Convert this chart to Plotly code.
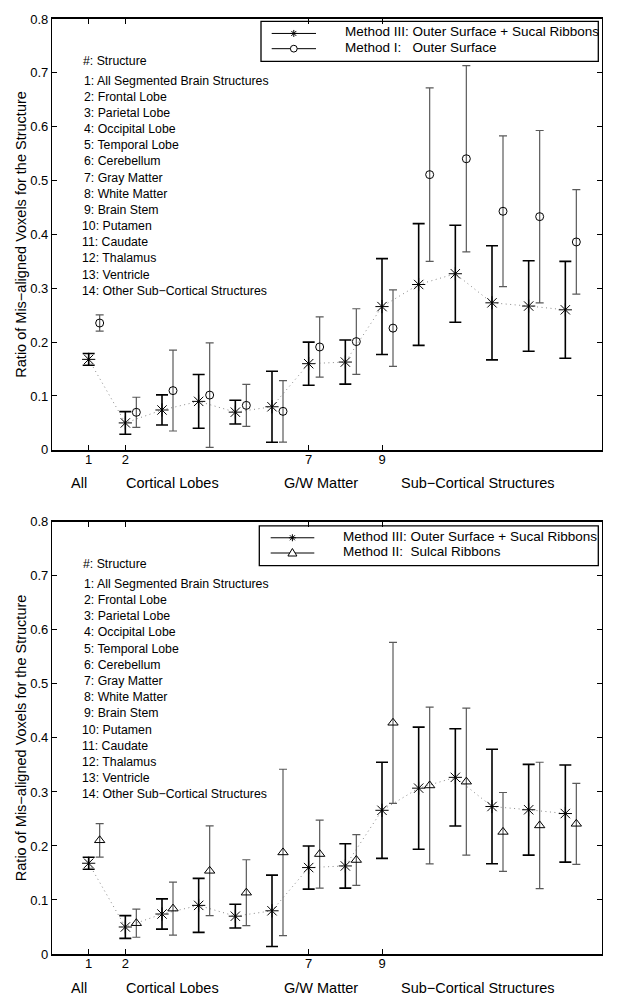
import plotly.graph_objects as go

# ---------------- data ----------------
structures = [
    "All Segmented Brain Structures", "Frontal Lobe", "Parietal Lobe",
    "Occipital Lobe", "Temporal Lobe", "Cerebellum", "Gray Matter",
    "White Matter", "Brain Stem", "Putamen", "Caudate", "Thalamus",
    "Ventricle", "Other Sub\u2212Cortical Structures",
]
struct_idx = list(range(1, 15))
offset = 0.3

m3_mean = [0.168, 0.050, 0.074, 0.090, 0.070, 0.080, 0.160, 0.163, 0.266, 0.307, 0.327, 0.273, 0.267, 0.260]
m3_err = [0.011, 0.021, 0.028, 0.050, 0.022, 0.066, 0.040, 0.041, 0.089, 0.113, 0.090, 0.106, 0.084, 0.090]

m1_mean = [0.2355, 0.0697, 0.110, 0.1017, 0.0826, 0.0715, 0.191, 0.201, 0.226, 0.511, 0.5405, 0.443, 0.433, 0.386]
m1_err = [0.015, 0.028, 0.075, 0.097, 0.039, 0.057, 0.056, 0.061, 0.071, 0.161, 0.173, 0.140, 0.160, 0.097]

m2_mean = [0.2105, 0.057, 0.084, 0.154, 0.1135, 0.188, 0.185, 0.174, 0.428, 0.312, 0.319, 0.226, 0.238, 0.241]
m2_err = [0.031, 0.026, 0.049, 0.083, 0.061, 0.154, 0.063, 0.047, 0.149, 0.145, 0.136, 0.073, 0.117, 0.075]

tick_vals = [1, 2, 7, 9]
tick_text = ["1", "2", "7", "9"]
y_ticks = [0, 0.1, 0.2, 0.3, 0.4, 0.5, 0.6, 0.7, 0.8]
y_tick_text = ["0", "0.1", "0.2", "0.3", "0.4", "0.5", "0.6", "0.7", "0.8"]
group_labels = ["All", "Cortical Lobes", "G/W Matter", "Sub\u2212Cortical Structures"]
group_pos = [0.74, 3.29, 7.33, 11.63]

name_m3 = "Method III: Outer Surface + Sucal Ribbons"
name_m1 = "Method I:\u00a0\u00a0\u00a0Outer Surface"
name_m2 = "Method II:\u00a0\u00a0Sulcal Ribbons"
y_title = "Ratio of Mis\u2212aligned Voxels for the Structure"

FONT = "Liberation Sans, Arial, Helvetica, sans-serif"

# ---------------- geometry (pixels) ----------------
W, H = 621, 1000
ML, MR, MT, MB = 52, 19, 15, 46
PW = W - ML - MR            # 550
PH = H - MT - MB            # 939
top_dom = [0.5392, 1.0]
bot_dom = [0.0, 0.4622]

fig = go.Figure()
x_off = [i + offset for i in struct_idx]

STAR_PATH = "M-3.5,0L3.5,0M0,-3.5L0,3.5M-2.5,-2.5L2.5,2.5M-2.5,2.5L2.5,-2.5"
TRI_PATH = "M-4.5,-3L4.5,-3L0,4.5Z"


def add_panel(xa, ya, other_mean, other_err, other_symbol, other_size):
    fig.add_trace(go.Scatter(
        x=struct_idx, y=m3_mean, mode="lines", xaxis=xa, yaxis=ya,
        line=dict(color="#8a8a8a", width=1, dash="1px,3.5px"),
        showlegend=False, hoverinfo="skip"))
    fig.add_trace(go.Scatter(
        x=struct_idx, y=m3_mean, mode="markers", xaxis=xa, yaxis=ya, name=name_m3,
        marker=dict(symbol="asterisk-open", size=11, color="black",
                    line=dict(color="black", width=1)),
        error_y=dict(type="data", array=m3_err, color="black", thickness=1.6, width=6),
        showlegend=False))
    fig.add_trace(go.Scatter(
        x=x_off, y=other_mean, mode="markers", xaxis=xa, yaxis=ya,
        marker=dict(symbol=other_symbol, size=other_size, color="black",
                    line=dict(color="black", width=1)),
        error_y=dict(type="data", array=other_err, color="#5a5a5a", thickness=1.2, width=4),
        showlegend=False))


add_panel("x", "y", m1_mean, m1_err, "circle-open", 8)
add_panel("x2", "y2", m2_mean, m2_err, "triangle-up-open", 9)

axis_common_x = dict(
    range=[0, 15], tickmode="array", tickvals=tick_vals, ticktext=tick_text,
    ticks="inside", ticklen=5, tickcolor="black", showline=True, linecolor="black",
    linewidth=1.6, mirror="ticks", showgrid=False, zeroline=False,
    tickfont=dict(family=FONT, size=13, color="black"),
)
axis_common_y = dict(
    range=[0, 0.8], tickmode="array", tickvals=y_ticks, ticktext=y_tick_text,
    ticks="inside", ticklen=5, tickcolor="black", showline=True, linecolor="black",
    linewidth=1.2, mirror="ticks", showgrid=False, zeroline=False,
    tickfont=dict(family=FONT, size=13, color="black"),
    title=dict(text=y_title, font=dict(family=FONT, size=14.5, color="black"), standoff=0),
)

annotations = []
shapes = []
for xa, ya in (("x", "y"), ("x2", "y2")):
    annotations.append(dict(
        x=0.80, y=0.7225, xref=xa, yref=ya, text="#: Structure", showarrow=False,
        xanchor="left", yanchor="middle", font=dict(family=FONT, size=12.3, color="black")))
    for i, name in enumerate(structures):
        n = struct_idx[i]
        annotations.append(dict(
            x=0.82 if n < 10 else 0.755, y=0.6855 - 0.03 * i, xref=xa, yref=ya,
            text=f"{n}: {name}", showarrow=False, xanchor="left", yanchor="middle",
            font=dict(family=FONT, size=12.3, color="black")))
    for lab, pos in zip(group_labels, group_pos):
        annotations.append(dict(
            x=pos, y=-0.078, xref=xa, yref=ya + " domain", text=lab, showarrow=False,
            xanchor="center", yanchor="middle", font=dict(family=FONT, size=14.5, color="black")))


# ---------------- legends (box, sample lines, glyphs, labels) ----------------
def legend_block(xa, ya, dom, box, rows, line_x, mark_x, text_x, entries):
    y_bot_px = MT + PH * (1 - dom[0])
    y_top_px = MT + PH * (1 - dom[1])
    hpx = y_bot_px - y_top_px
    xd = lambda px: (px - ML) / PW
    yd = lambda py: (y_bot_px - py) / hpx
    xr, yr = xa + " domain", ya + " domain"
    shapes.append(dict(type="rect", xref=xr, yref=yr,
                       x0=xd(box[0]), x1=xd(box[1]), y0=yd(box[3]), y1=yd(box[2]),
                       line=dict(color="black", width=1.3), fillcolor="white", layer="below"))
    for (label, glyph), ry in zip(entries, rows):
        shapes.append(dict(type="line", xref=xr, yref=yr,
                           x0=xd(line_x[0]), x1=xd(line_x[1]), y0=yd(ry), y1=yd(ry),
                           line=dict(color="black", width=1)))
        if glyph == "circle":
            shapes.append(dict(type="circle", xref=xr, yref=yr, xsizemode="pixel",
                               ysizemode="pixel", xanchor=xd(mark_x), yanchor=yd(ry),
                               x0=-3.4, x1=3.4, y0=-3.4, y1=3.4,
                               line=dict(color="black", width=1), fillcolor="white"))
        else:
            shapes.append(dict(type="path", xref=xr, yref=yr, xsizemode="pixel",
                               ysizemode="pixel", xanchor=xd(mark_x), yanchor=yd(ry),
                               path=STAR_PATH if glyph == "star" else TRI_PATH,
                               line=dict(color="black", width=1),
                               fillcolor="white" if glyph == "tri" else None))
        annotations.append(dict(x=xd(text_x), y=yd(ry - 1.5), xref=xr, yref=yr,
                                text=label, showarrow=False, xanchor="left",
                                yanchor="middle",
                                font=dict(family=FONT, size=13.5, color="black")))


legend_block("x", "y", top_dom, box=(261, 598.3, 17.3, 57.5), rows=(29.5, 44.8),
             line_x=(271.7, 316), mark_x=293.8, text_x=342.5,
             entries=[(name_m3, "star"), (name_m1, "circle")])
legend_block("x2", "y2", bot_dom, box=(259.3, 598.3, 524, 564), rows=(536.0, 551.3),
             line_x=(270.7, 314.3), mark_x=292.4, text_x=341,
             entries=[(name_m3, "star"), (name_m2, "tri")])

layout_kw = dict(
    width=W, height=H,
    margin=dict(l=ML, r=MR, t=MT, b=MB),
    paper_bgcolor="white", plot_bgcolor="white",
    font=dict(family=FONT, color="black"),
    xaxis=dict(domain=[0, 1], anchor="y", **axis_common_x),
    yaxis=dict(domain=top_dom, anchor="x", **axis_common_y),
    xaxis2=dict(domain=[0, 1], anchor="y2", **axis_common_x),
    yaxis2=dict(domain=bot_dom, anchor="x2", **axis_common_y),
    annotations=annotations,
    shapes=shapes,
    showlegend=False,
)
fig.update_layout(**layout_kw)
try:
    fig.update_xaxes(ticklabelstandoff=-3)
except Exception:
    pass

fig.write_html("out.html")
